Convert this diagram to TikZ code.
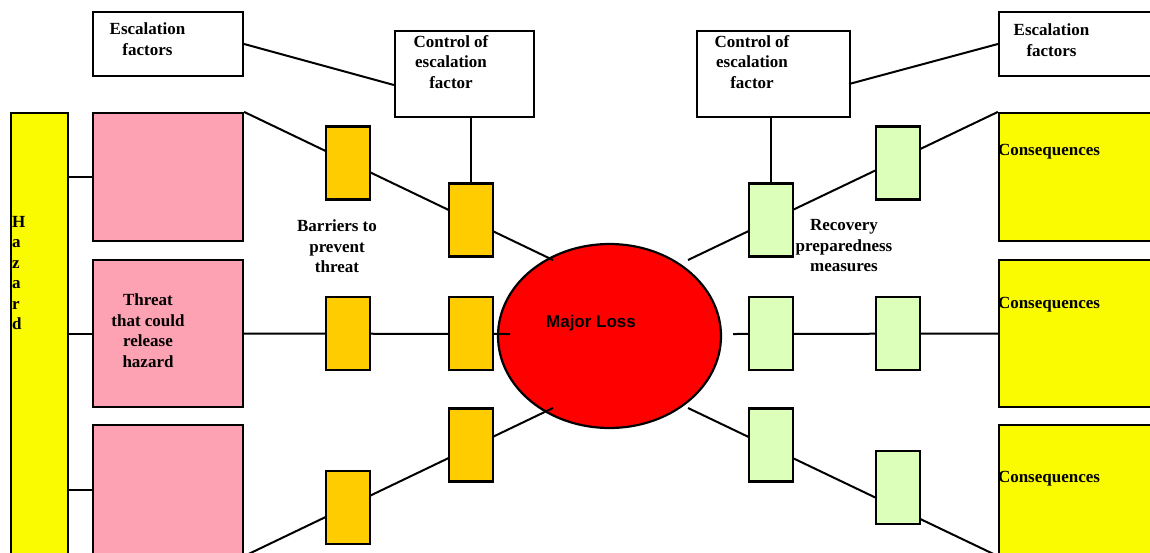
\documentclass[tikz,border=0pt]{standalone}
\usepackage{fontspec}
\setmainfont{Liberation Serif}
\newfontfamily\arialfont{Liberation Sans}
\usetikzlibrary{positioning, shapes.geometric}
\definecolor{hazyellow}{RGB}{250, 250, 0}
\definecolor{threatpink}{RGB}{252, 162, 178}
\definecolor{barorange}{RGB}{255, 204, 0}
\definecolor{recgreen}{RGB}{220, 255, 186}
\definecolor{lossred}{RGB}{255, 0, 0}

\begin{document}
\begin{tikzpicture}[x=1pt, y=-1pt,
        node distance=77pt,
        txt/.style={font=\fontsize{17}{20.5}\selectfont\bfseries, align=center, inner sep=0pt},
        frame/.style={draw, line width=2.2pt, fill=white, inner sep=0pt},
        hazard/.style={frame, fill=hazyellow, minimum width=57pt, minimum height=450pt},
        threat/.style={frame, fill=threatpink, minimum width=150pt},
        conseq/.style={frame, fill=hazyellow, minimum width=161pt},
        barrier/.style={frame, fill=barorange, minimum width=44pt, minimum height=73pt},
        recovery/.style={frame, fill=recgreen, minimum width=44pt, minimum height=73pt},
        loss/.style={ellipse, draw, line width=2.2pt, fill=lossred, minimum width=223pt, minimum height=184pt},
        link/.style={line width=2pt}
      ]
        \clip (0,0) rectangle (1150,552);
        % left side: hazard and threats
        \node[hazard] (haz) at (39.5,338) {};
        \node[txt, anchor=north west, align=left] (hazlbl) at (12,216) {H\\a\\z\\a\\r\\d};
        \node[threat, minimum height=128pt] (thr1) at (168,177) {};
        \node[threat, minimum height=147pt] (thr2) at (168,333.5) {};
        \node[threat, minimum height=130pt] (thr3) at (168,490) {};
        \node[txt] (thrlbl) at (148,330.5) {Threat\\that could\\release\\hazard};
        % right side: consequences
        \node[conseq, minimum height=128pt] (cons1) at (1079.5,177) {};
        \node[conseq, minimum height=147pt] (cons2) at (1079.5,333.5) {};
        \node[conseq, minimum height=130pt] (cons3) at (1079.5,490) {};
        \node[txt] (conslbl1) at (1049,152) {Consequences};
        \node[txt] (conslbl2) at (1049,305) {Consequences};
        \node[txt] (conslbl3) at (1049,479) {Consequences};
        % escalation factors and their controls
        \node[frame, minimum width=150pt, minimum height=64pt] (esc1) at (168,44) {};
        \node[txt] (esclbl1) at (147.5,39) {Escalation\\factors};
        \node[frame, minimum width=161pt, minimum height=64pt] (esc2) at (1079.5,44) {};
        \node[txt] (esclbl2) at (1051.5,40) {Escalation\\factors};
        \node[frame, minimum width=139pt, minimum height=86pt] (ctl1) at (464.5,74) {};
        \node[txt] (ctllbl1) at (451,62) {Control of\\escalation\\factor};
        \node[frame, minimum width=153pt, minimum height=86pt] (ctl2) at (773.5,74) {};
        \node[txt] (ctllbl2) at (752,62) {Control of\\escalation\\factor};
        \draw[link] (esc1.east) -- ([yshift=-11pt]ctl1.west);
        \draw[link] ([xshift=-2pt, yshift=-10pt]ctl2.east) -- (esc2.west);
        % top event
        \node[loss] (top) at (609.5,336) {};
        \node[txt, font=\fontsize{17}{20.5}\selectfont\arialfont\bfseries] (toplbl) at (591,323) {Major Loss};
        \coordinate (lossNW) at (553,260);
        \coordinate (lossW) at (510,334);
        \coordinate (lossSW) at (553,408);
        \coordinate (lossNE) at (688,260);
        \coordinate (lossE) at (733,334);
        \coordinate (lossSE) at (688,408);
        \draw[link] (haz.east |- thr1.west) -- (thr1.west);
        \draw[link] (haz.east |- thr2.west) -- (thr2.west);
        \draw[link] (haz.east |- thr3.west) -- (thr3.west);
        \draw[link] (thr1.north east) -- (lossNW);
        \draw[link] (thr2.east) -- (lossW);
        \draw[link] (thr3.south east) -- (lossSW);
        \draw[link] (lossNE) -- (cons1.north west);
        \draw[link] (lossE) -- (cons2.west);
        \draw[link] (lossSE) -- (cons3.south west);
        % barriers
        \node[barrier] (b1) at (348,163) {};
        \node[barrier] (b2) at (471,220) {};
        \node[barrier] (b3) at (348,333.5) {};
        \node[barrier, right=of b3] (b4) {};
        \node[barrier] (b5) at (471,445) {};
        \node[barrier] (b6) at (348,507.5) {};
        \node[txt] (barlbl) at (337,246.5) {Barriers to\\prevent\\threat};
        % recovery measures
        \node[recovery] (r1) at (771,220) {};
        \node[recovery] (r2) at (898,163) {};
        \node[recovery] (r3) at (771,333.5) {};
        \node[recovery, right=81pt of r3] (r4) {};
        \node[recovery] (r5) at (771,445) {};
        \node[recovery] (r6) at (898,487.5) {};
        \node[txt] (reclbl) at (844,246) {Recovery\\preparedness\\measures};
        \draw[link] (b2.north |- ctl1.south) -- (b2.north);
        \draw[link] (r1.north |- ctl2.south) -- (r1.north);
      \end{tikzpicture}
\end{document}
